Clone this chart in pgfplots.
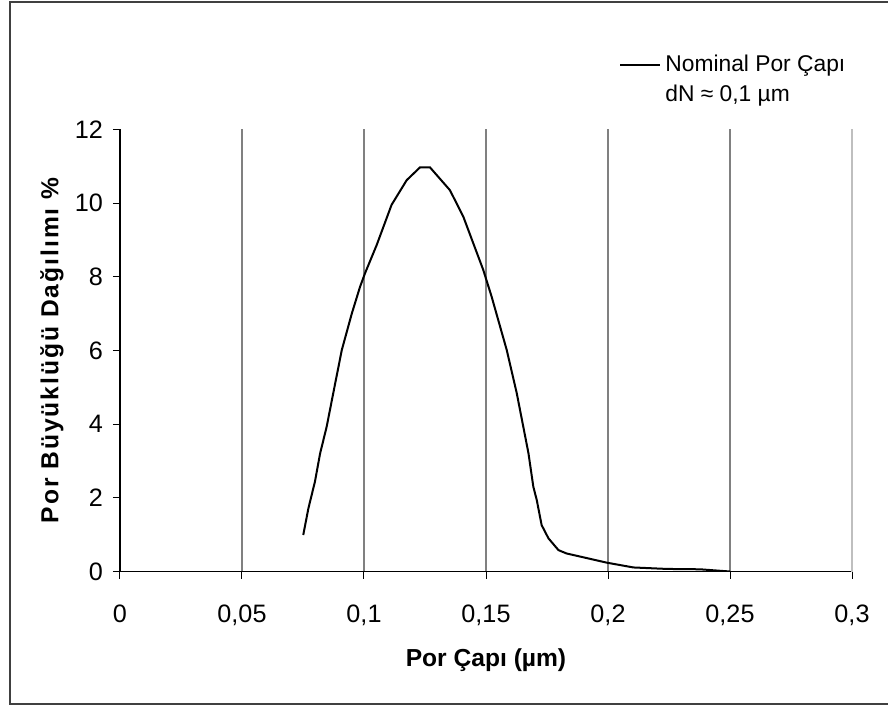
\documentclass[border=0pt]{standalone}
\usepackage{fontspec}
\setmainfont{Liberation Sans}
\newfontfamily\ylabfont[LetterSpace=8]{Liberation Sans}
\usepackage{pgfplots}
\pgfplotsset{compat=1.18}
\begin{document}
\begin{tikzpicture}
\useasboundingbox (-60pt,-68.25pt) rectangle (384pt,285.75pt);
\draw[line width=1pt, black!75] (384.5pt,284.75pt) -- (-55pt,284.75pt) -- (-55pt,-66.25pt) -- (384.5pt,-66.25pt);
\begin{axis}[
  at={(0pt,0pt)}, anchor=south west,
  scale only axis, width=366pt, height=221.1pt,
  xmin=0, xmax=0.3, ymin=0, ymax=12,
  axis x line*=bottom, axis y line*=left,
  axis line style={black, line width=0.6pt},
  xtick={0,0.05,0.1,0.15,0.2,0.25},
  extra x ticks={0.3},
  extra x tick style={xmajorgrids=true, grid style={black!25}},
  ytick={0,2,4,6,8,10,12},
  xmajorgrids,
  grid style={black!50, line width=0.6pt},
  tick align=outside,
  major tick length=3.5pt,
  tick style={black, line width=0.5pt},
  scaled x ticks=false,
  /pgf/number format/.cd, fixed, use comma, 1000 sep={}, assume math mode=true, /pgfplots/.cd,
  ticklabel style={font=\fontsize{12.6}{14}\selectfont},
  xticklabel style={yshift=-9.5pt},
  yticklabel style={xshift=-1.5pt},
  xlabel={Por Çapı (µm)},
  ylabel={Por Büyüklüğü Dağılımı \%},
  xlabel style={font=\fontsize{12.3}{14}\selectfont\bfseries, at={([yshift=-44.5pt]axis description cs:0.5,0)}, anchor=center},
  ylabel style={font=\fontsize{12.3}{14}\selectfont\ylabfont\bfseries, at={([xshift=-34pt]axis description cs:0,0.5)}, anchor=center},
  legend cell align=left,
  legend image code/.code={\draw[#1] (0pt,0pt) -- (20pt,0pt);},
  legend style={draw=none, fill=white, at={(axis description cs:0.6817,1.177)}, anchor=north west,
    font=\fontsize{11.4}{13}\selectfont, inner sep=0pt, row sep=1.2pt, nodes={inner sep=2pt}},
]
\addplot[black, line width=1pt] coordinates {
(0.0751,0.99) (0.0772,1.71) (0.0799,2.44) (0.0820,3.20) (0.0847,3.93)
(0.0874,4.84) (0.0909,6.01) (0.0950,7.00) (0.0984,7.73) (0.1004,8.09)
(0.1052,8.86) (0.1113,9.95) (0.1175,10.62) (0.1230,10.97) (0.1270,10.97)
(0.1352,10.35) (0.1407,9.63) (0.1489,8.18) (0.1523,7.46) (0.1585,6.01)
(0.1626,4.84) (0.1674,3.21) (0.1694,2.30) (0.1708,1.94) (0.1728,1.26)
(0.1756,0.90) (0.1797,0.58) (0.1830,0.49) (0.1995,0.24) (0.2104,0.11)
(0.2240,0.07) (0.2377,0.06) (0.2500,0.00)
};
\addlegendentry{Nominal Por Çapı}
\addlegendimage{empty legend}
\addlegendentry{dN ≈ 0,1 µm}
\end{axis}
\end{tikzpicture}
\end{document}
